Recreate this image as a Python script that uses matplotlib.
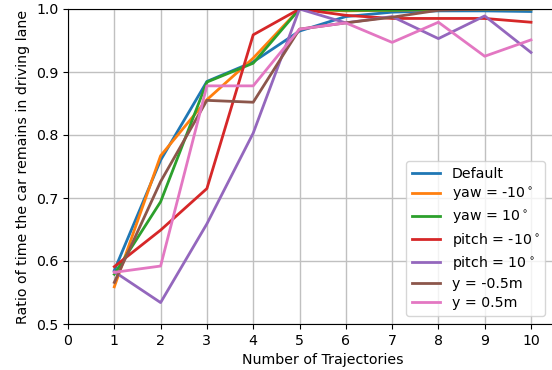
import matplotlib
matplotlib.use("Agg")
import matplotlib.pyplot as plt

x = [1, 2, 3, 4, 5, 6, 7, 8, 9, 10]

default = [0.585, 0.760, 0.885, 0.916, 0.965, 0.988, 0.995, 0.997, 0.997, 0.996]
yaw_m10 = [0.559, 0.767, 0.856, 0.922, 1.0, 0.997, 0.998, 0.999, 1.0, 1.0]
yaw_p10 = [0.579, 0.694, 0.884, 0.914, 1.0, 0.998, 0.998, 1.0, 1.0, 1.0]
pitch_m10 = [0.591, 0.649, 0.715, 0.959, 1.0, 0.990, 0.985, 0.985, 0.985, 0.979]
pitch_p10 = [0.583, 0.534, 0.659, 0.803, 1.0, 0.978, 0.988, 0.953, 0.989, 0.931]
y_m05 = [0.566, 0.726, 0.855, 0.852, 0.968, 0.978, 0.987, 0.998, 1.0, 1.0]
y_p05 = [0.582, 0.592, 0.878, 0.878, 0.968, 0.978, 0.947, 0.979, 0.925, 0.951]

series = [
    (default, "Default"),
    (yaw_m10, r"yaw = -10$^\circ$"),
    (yaw_p10, r"yaw = 10$^\circ$"),
    (pitch_m10, r"pitch = -10$^\circ$"),
    (pitch_p10, r"pitch = 10$^\circ$"),
    (y_m05, "y = -0.5m"),
    (y_p05, "y = 0.5m"),
]

plt.rcParams["font.size"] = 10.2

fig = plt.figure(figsize=(5.52, 3.7), dpi=100)
# axes run past the right edge of the figure, as in the original
ax = fig.add_axes([68 / 552, 46 / 370, 11 * 46.3 / 552, 315 / 370])

for vals, lab in series:
    ax.plot(x, vals, linewidth=2, label=lab)

ax.set_xlim(0, 11)
ax.set_ylim(0.5, 1.0)
ax.set_xticks(range(0, 11))
ax.set_yticks([0.5, 0.6, 0.7, 0.8, 0.9, 1.0])
ax.grid(True, color="#c0c0c0", linewidth=1.0)
ax.set_xlabel("Number of Trajectories")
ax.set_ylabel("Ratio of time the car remains in driving lane")

ax.legend(loc="lower right", bbox_to_anchor=(545 / 552, 54 / 370),
          bbox_transform=fig.transFigure, borderaxespad=0,
          labelspacing=0.36)

fig.savefig("out.png", dpi=100)
